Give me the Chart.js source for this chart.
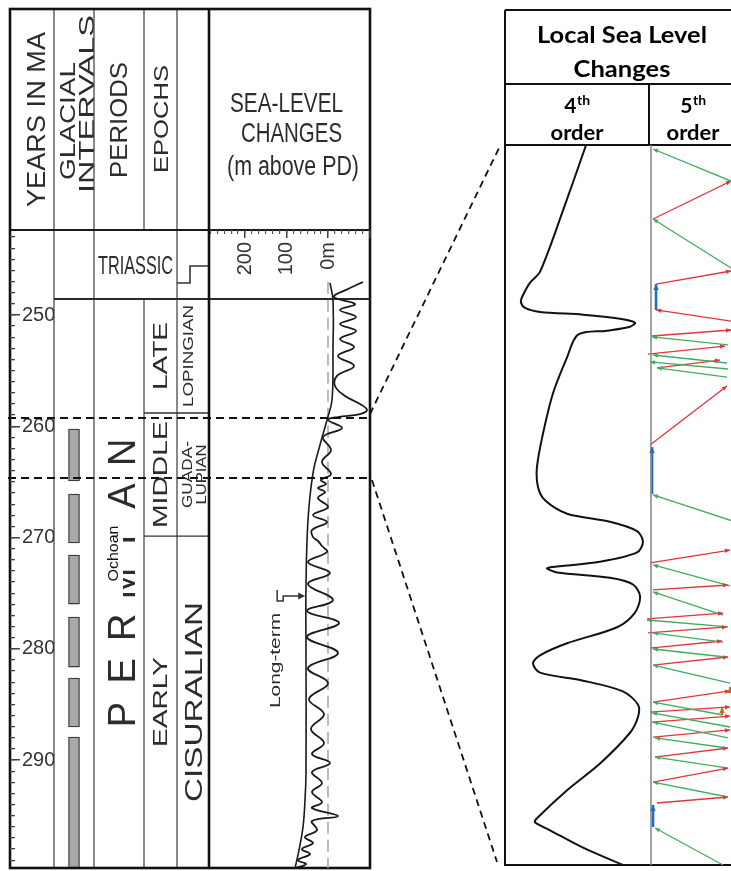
<!DOCTYPE html>
<html>
<head>
<meta charset="utf-8">
<script src="https://cdn.jsdelivr.net/npm/chart.js@4.4.1/dist/chart.umd.min.js"></script>
<style>
  html, body { margin: 0; padding: 0; background: #fff; }
  #wrap { position: relative; width: 731px; height: 871px; overflow: hidden; background: #fff; }
  #wrap canvas { position: absolute; left: 0; top: 0; }
</style>
</head>
<body>
<div id="wrap">
  <canvas id="cCols" width="731" height="871"></canvas>
  <canvas id="cAge" width="731" height="871"></canvas>
  <canvas id="cSea" width="731" height="871"></canvas>
  <canvas id="cRuler" width="731" height="871"></canvas>
  <canvas id="c4" width="731" height="871"></canvas>
  <canvas id="c5" width="731" height="871"></canvas>
</div>
<script>
// ---------------- data ----------------
// time span of the stratigraphic column (Ma, top to bottom)
const ageRange = [242.36, 299.7];
// interval enlarged in the local panel (Ma)
const zoomWindow = [259.26, 264.65];

const periods = [['TRIASSIC', 242.36, 248.56], ['PERMIAN', 248.56, 299.7]];
const epochs = [['LATE', 248.56, 258.81], ['MIDDLE', 258.81, 269.87], ['EARLY', 269.87, 299.7]];
const seriesNames = [['LOPINGIAN', 248.56, 258.81], ['GUADA-\nLUPIAN', 258.81, 269.87], ['CISURALIAN', 269.87, 299.7]];

// glacial intervals [start, end] in Ma
const glacialIntervals = [
  [260.25, 264.92], [266.09, 270.49], [271.57, 275.98],
  [277.15, 281.64], [282.63, 287.03], [287.93, 299.7]
];

// short-term sea level (m above present day)
const seaLevelAges = [247.03, 247.66, 248.38, 249.01, 249.55, 250.18, 250.81, 251.44, 252.16, 252.88,
  253.69, 254.58, 255.48, 256.38, 257.28, 258.00, 258.54, 258.90, 259.17, 259.44,
  260.16, 260.97, 262.13, 263.21, 264.29, 264.83, 265.19, 265.55, 265.91, 266.45,
  267.26, 267.98, 268.61, 269.33, 269.96, 270.31, 270.76, 271.30, 272.20, 273.19,
  274.18, 275.62, 276.61, 277.69, 278.94, 280.38, 281.73, 283.08, 284.52, 285.87,
  287.21, 288.47, 289.46, 290.27, 291.08, 292.07, 292.88, 293.78, 294.31, 295.03,
  295.48, 296.29, 296.92, 297.46, 298.00, 298.45, 298.99, 299.35, 299.71];
const seaLevelShort = [-84.3, -48.2, -14.5, -65.1, -28.9, -67.5, -28.9, -67.5, -28.9, -62.7,
  -24.1, -62.7, -21.7, -16.9, -41.0, -77.1, -94.0, -77.1, -24.1, 0,
  -33.7, 12.0, -7.2, 14.5, -7.2, 16.9, 4.8, 24.1, 7.2, 24.1,
  0, 36.1, 2.4, 38.6, 36.1, 24.1, 14.5, 2.4, 48.2, -4.8,
  48.2, -12.0, 50.6, -26.5, 50.6, -24.1, 48.2, 0, 45.8, 9.6,
  41.0, 9.6, 38.6, -4.8, 38.6, 14.5, 38.6, 14.5, 38.6, -24.1,
  38.6, 26.5, 55.4, 36.1, 62.7, 43.4, 72.3, 53.0, 79.5];

// long-term sea level trend (m above present day)
const longTermAges = [247.12, 248.65, 253.15, 257.64, 259.44, 261.69, 264.20, 268.43, 274.45, 280.11, 291.17, 293.60, 296.02, 298.09, 299.73];
const longTermLevel = [-4.8, -12.0, -12.0, -9.6, 2.4, 19.3, 36.1, 48.2, 53.0, 53.0, 53.0, 55.4, 60.2, 69.9, 79.5];

// local 4th-order cycle (relative level, 0-100)
const order4Ages = [259.26, 259.75, 260.21, 260.29, 260.40, 260.44, 260.48, 260.51, 260.53, 260.56,
  260.59, 260.62, 260.65, 260.68, 260.85, 261.12, 261.42, 261.67, 261.82, 261.92,
  262.02, 262.08, 262.15, 262.23, 262.31, 262.38, 262.42, 262.43, 262.46, 262.50,
  262.55, 262.64, 262.76, 262.87, 262.99, 263.08, 263.14, 263.21, 263.27, 263.35,
  263.45, 263.54, 263.66, 263.89, 264.09, 264.30, 264.33, 264.39, 264.52, 264.65];
const order4Level = [56.3, 40.3, 24.3, 17.4, 11.8, 11.1, 13.9, 24.3, 54.2, 79.9,
  90.3, 86.8, 70.8, 50.7, 43.1, 33.3, 26.4, 22.2, 22.9, 27.8,
  43.1, 72.9, 91.7, 95.8, 91.7, 66.0, 32.6, 29.2, 36.1, 72.9,
  88.9, 93.8, 90.3, 77.8, 43.1, 24.3, 19.4, 24.3, 54.2, 81.9,
  92.4, 92.4, 86.8, 66.0, 43.1, 22.2, 20.8, 31.3, 54.2, 81.9];

// local 5th-order arrows: [fromAge, fromLevel, toAge, toLevel] (head at "to")
const fallArrows = [
  [259.530, 100, 259.290, 2.5], [260.181, 100, 259.814, 2.5], [260.757, 96.3, 260.697, 1.3],
  [260.892, 95, 260.832, 2.5], [260.937, 96.3, 260.884, -1.3], [260.997, 95, 260.929, 7.5],
  [262.105, 117.5, 261.880, 2.5], [262.561, 98.8, 262.404, 2.5], [262.779, 90, 262.606, 2.5],
  [262.868, 96.3, 262.816, -5], [262.981, 90, 262.913, 2.5], [263.093, 92.5, 263.033, 2.5],
  [263.288, 98.8, 263.153, 2.5], [263.527, 90, 263.430, 2.5], [263.617, 98.8, 263.512, 1.3],
  [263.699, 96.3, 263.580, 2.5], [263.774, 95, 263.699, 5], [263.924, 96.3, 263.842, 5],
  [264.141, 96.3, 264.029, 2.5], [264.650, 90, 264.373, 5]
];
const riseArrows = [
  [259.814, 2.5, 259.530, 100], [260.301, 6.3, 260.203, 100], [260.578, 100, 260.495, 6.3],
  [260.690, 1.3, 260.645, 100], [260.825, -3.8, 260.765, 92.5], [260.929, 7.5, 260.870, 86.3],
  [261.506, -1.3, 261.064, 95], [262.389, -1.3, 262.292, 98.8], [262.591, 2.5, 262.554, 96.3],
  [262.808, -5, 262.764, 90], [262.913, -3.8, 262.868, 95], [263.026, -1.3, 262.973, 88.8],
  [263.153, 2.5, 263.093, 96.3], [263.430, 2.5, 263.347, 98.8], [263.505, -1.3, 263.467, 98.8],
  [263.580, 1.3, 263.535, 98.8], [263.692, 2.5, 263.639, 98.8], [263.842, 5, 263.774, 96.3],
  [264.029, 2.5, 263.924, 96.3], [264.186, 7.5, 264.141, 96.3]
];
const stillArrows = [[260.495, 6.3, 260.301, 6.3], [261.873, 1.3, 261.521, 1.3], [264.366, 2.5, 264.201, 2.5]];
const stepArrows = [[263.355, 98.8, 263.318, 98.8], [263.527, 88.8, 263.467, 88.8]];

// ---------------- styles & helpers ----------------
const INK = '#2c2c2c';
const FONT = '"Liberation Sans", Arial, Helvetica, sans-serif';
const BOLD_FONT = 'Lato, "Liberation Sans", Arial, sans-serif';
const SEA_MIN = -101.2, SEA_MAX = 286.7;
const GREEN = '#3fae5c', RED = '#e2343f', BLUE = '#1f6fbf', ORANGE = '#c4691f';

function fitText(ctx, text, cx, cy, len, cap, o = {}) {
  const size = cap / 0.716;
  ctx.save();
  ctx.font = `${o.bold ? 'bold ' : ''}${size}px ${o.family || FONT}`;
  const w = ctx.measureText(text).width;
  ctx.translate(cx, cy);
  if (o.rotate) ctx.rotate(-Math.PI / 2);
  ctx.scale(len / w, 1);
  ctx.textAlign = 'center';
  ctx.textBaseline = 'alphabetic';
  ctx.fillStyle = o.color || INK;
  ctx.fillText(text, 0, cap / 2);
  ctx.restore();
}
function stroke(ctx, pts, w, color, dash) {
  ctx.save();
  ctx.beginPath();
  pts.forEach((p, i) => i ? ctx.lineTo(p[0], p[1]) : ctx.moveTo(p[0], p[1]));
  ctx.lineWidth = w;
  ctx.strokeStyle = color;
  ctx.setLineDash(dash || []);
  ctx.stroke();
  ctx.restore();
}
function baseOptions(pad, scales) {
  return {
    responsive: false, animation: false, devicePixelRatio: 1, events: [],
    layout: { padding: pad },
    plugins: { legend: { display: false }, tooltip: { enabled: false } },
    scales
  };
}
const ageScale = () => ({ type: 'linear', min: ageRange[0], max: ageRange[1], reverse: true, display: false });

// column edges of the stratigraphic table
const COL = { left: 10, glacial: 54, period: 94, epoch: 144, series: 177, sea: 209, right: 370, top: 9 };

const headerLabels = [
  { t: 'YEARS IN MA', x: 35, y: 119.5, len: 175, cap: 19 },
  { t: 'GLACIAL', x: 67.5, y: 121, len: 118, cap: 15.5 },
  { t: 'INTERVALS', x: 86, y: 104, len: 178, cap: 15.5 },
  { t: 'PERIODS', x: 118.5, y: 120, len: 116, cap: 17 },
  { t: 'EPOCHS', x: 160.5, y: 119, len: 108, cap: 15 }
];
const unitStyle = {
  LATE: { x: 159.5, len: 68, cap: 15 }, MIDDLE: { x: 159.5, len: 107, cap: 15 }, EARLY: { x: 159.5, len: 90, cap: 15 },
  LOPINGIAN: { x: 187.5, len: 102, cap: 11 }, 'GUADA-': { x: 186, len: 67, cap: 11 }, LUPIAN: { x: 200.5, len: 60, cap: 11 },
  CISURALIAN: { x: 193.5, len: 200, cap: 17 }
};

// ---------------- stratigraphic table (frame, units, glacial bars) ----------------
const stratFrame = {
  id: 'stratFrame',
  afterDraw(chart) {
    const ctx = chart.ctx;
    const Y = v => chart.scales.y.getPixelForValue(v);
    const head = Y(ageRange[0]), bottom = Y(ageRange[1]);
    const yTri = Y(periods[0][2]);

    headerLabels.forEach(h => fitText(ctx, h.t, h.x, h.y, h.len, h.cap, { rotate: true }));

    // Triassic row
    fitText(ctx, periods[0][0], (COL.period + COL.series) / 2, (head + yTri) / 2, 75, 19);
    stroke(ctx, [[COL.series, yTri - 16], [COL.series + 13, yTri - 16], [COL.series + 13, yTri - 33], [COL.sea, yTri - 33]], 1.6, '#333');

    // Permian, letter by letter
    const pMid = (Y(periods[1][1]) + Y(periods[1][2])) / 2;
    ctx.save();
    ctx.font = `38px ${FONT}`;
    ctx.fillStyle = INK;
    ctx.textAlign = 'center';
    periods[1][0].split('').forEach((ch, i) => {
      ctx.save();
      ctx.translate(121, pMid + (3 - i) * 43.7);
      ctx.rotate(-Math.PI / 2);
      ctx.fillText(ch, 0, 13.6);
      ctx.restore();
    });
    ctx.restore();
    ctx.fillStyle = '#fff';
    ctx.fillRect(100, pMid - 66, 23, 85);
    fitText(ctx, 'Ochoan', 112.5, pMid - 30, 56, 10.5, { rotate: true, color: '#111' });

    // epochs and series
    epochs.forEach(e => {
      const s = unitStyle[e[0]];
      fitText(ctx, e[0], s.x, (Y(e[1]) + Y(e[2])) / 2, s.len, s.cap, { rotate: true });
    });
    seriesNames.forEach(e => {
      const mid = (Y(e[1]) + Y(e[2])) / 2;
      e[0].split('\n').forEach(part => {
        const s = unitStyle[part];
        fitText(ctx, part, s.x, mid, s.len, s.cap, { rotate: true });
      });
    });

    // grid of the table
    const thin = '#4a4a4a';
    [COL.glacial, COL.period, COL.series].forEach(x => stroke(ctx, [[x, COL.top], [x, bottom]], 1.3, thin));
    stroke(ctx, [[COL.epoch, COL.top], [COL.epoch, head]], 1.3, thin);
    stroke(ctx, [[COL.epoch, yTri], [COL.epoch, bottom]], 1.3, thin);
    epochs.slice(1).forEach(e => stroke(ctx, [[COL.epoch, Y(e[1])], [COL.sea, Y(e[1])]], 1.4, '#333'));
    stroke(ctx, [[COL.glacial, yTri], [COL.right, yTri]], 1.8, '#2a2a2a');
    stroke(ctx, [[COL.left, head], [COL.right, head]], 2, '#1a1a1a');
    stroke(ctx, [[COL.sea, COL.top], [COL.sea, bottom]], 2.6, '#111');
    ctx.save();
    ctx.lineWidth = 2.6;
    ctx.strokeStyle = '#111';
    ctx.strokeRect(COL.left, COL.top, COL.right - COL.left, bottom - COL.top);
    ctx.restore();
  }
};

const colsChart = new Chart(document.getElementById('cCols'), {
  type: 'bar',
  data: {
    labels: ['Glacial intervals'],
    datasets: [{
      label: 'Glacial intervals',
      data: glacialIntervals.map(iv => ({ x: 'Glacial intervals', y: iv })),
      backgroundColor: '#a8a8a8', borderColor: '#3a3a3a', borderWidth: 1.3,
      borderSkipped: false, barThickness: 11
    }]
  },
  options: baseOptions({ left: 54, right: 637, top: 230, bottom: 3 }, {
    x: { type: 'category', display: false },
    y: ageScale()
  }),
  plugins: [stratFrame]
});

// ---------------- age axis ----------------
const ageAxisChart = new Chart(document.getElementById('cAge'), {
  type: 'line',
  data: { datasets: [] },
  options: baseOptions({ left: 0, right: 677, top: 230, bottom: 3 }, {
    x: { type: 'linear', display: false, min: 0, max: 1 },
    yMinor: {
      type: 'linear', position: 'right', weight: 0, min: ageRange[0], max: ageRange[1], reverse: true,
      ticks: { display: false, stepSize: 1, includeBounds: false },
      grid: { drawOnChartArea: false, tickLength: 5, color: '#444', lineWidth: 1.3 },
      border: { display: false },
      afterFit: s => { s.width = 0; s.paddingTop = 0; s.paddingBottom = 0; }
    },
    yMajor: {
      type: 'linear', position: 'right', weight: 1, min: ageRange[0], max: ageRange[1], reverse: true,
      ticks: { stepSize: 10, includeBounds: false, autoSkip: false, padding: 2, color: '#333', font: { family: FONT, size: 20 } },
      grid: { drawOnChartArea: false, tickLength: 10, color: '#444', lineWidth: 1.5 },
      border: { display: false },
      afterFit: s => { s.width = 44; s.paddingTop = 0; s.paddingBottom = 0; }
    }
  })
});

// ---------------- global sea-level curves ----------------
const longTermNote = {
  id: 'longTermNote',
  afterDatasetsDraw(chart) {
    const { ctx, scales: { x, y } } = chart;
    const yy = y.getPixelForValue(275.26);
    const tip = x.getPixelForValue(55), tail = x.getPixelForValue(108);
    stroke(ctx, [[tail - 6, yy - 6], [tail - 6, yy + 5], [tail, yy + 5], [tail, yy], [tip - 5, yy]], 1.5, '#333');
    ctx.save();
    ctx.beginPath();
    ctx.moveTo(tip, yy); ctx.lineTo(tip - 7, yy - 3.5); ctx.lineTo(tip - 7, yy + 3.5); ctx.closePath();
    ctx.fillStyle = '#333'; ctx.fill();
    ctx.restore();
    fitText(ctx, 'Long-term', x.getPixelForValue(130), y.getPixelForValue(281.05), 95, 11, { rotate: true });
  }
};

const seaChart = new Chart(document.getElementById('cSea'), {
  type: 'line',
  data: {
    datasets: [
      { label: 'Short-term', data: seaLevelAges.map((a, i) => ({ x: seaLevelShort[i], y: a })),
        borderColor: '#1a1a1a', borderWidth: 1.8, tension: 0.4, pointRadius: 0, fill: false },
      { label: 'Long-term', data: longTermAges.map((a, i) => ({ x: longTermLevel[i], y: a })),
        borderColor: '#1a1a1a', borderWidth: 1.6, tension: 0.4, pointRadius: 0, fill: false },
      { label: '0 m', data: [{ x: 0, y: 247.0 }, { x: 0, y: ageRange[1] }],
        borderColor: '#a4a4a4', borderWidth: 1.5, borderDash: [12, 6], pointRadius: 0, fill: false }
    ]
  },
  options: baseOptions({ left: 209, right: 361, top: 230, bottom: 3 }, {
    x: { type: 'linear', min: SEA_MIN, max: SEA_MAX, reverse: true, display: false },
    y: ageScale()
  }),
  plugins: [longTermNote]
});

// ---------------- sea-level header and metre ruler ----------------
const seaHeader = {
  id: 'seaHeader',
  afterDraw(chart) {
    const ctx = chart.ctx;
    fitText(ctx, 'SEA-LEVEL', 286.5, 102, 113, 20);
    fitText(ctx, 'CHANGES', 291.5, 132, 101, 20);
    fitText(ctx, '(m above PD)', 293, 165, 132, 20);
  }
};
const seaTickLabel = v => {
  const r = Math.round(v);
  if (Math.abs(v - r) > 0.01) return '';
  if (r === 0) return '0m';
  return (r === 100 || r === 200) ? String(r) : '';
};
const rulerChart = new Chart(document.getElementById('cRuler'), {
  type: 'line',
  data: { datasets: [] },
  options: baseOptions({ left: 209, right: 361, top: 9, bottom: 591 }, {
    y: { type: 'linear', display: false, min: 0, max: 1 },
    xMinor: {
      type: 'linear', position: 'bottom', weight: 0, min: SEA_MIN, max: SEA_MAX, reverse: true,
      ticks: { display: false, stepSize: 100 / 6, includeBounds: false },
      grid: { drawOnChartArea: false, tickLength: 4, color: '#555', lineWidth: 1.2 },
      border: { display: false },
      afterFit: s => { s.height = 0; s.paddingLeft = 0; s.paddingRight = 0; }
    },
    xMajor: {
      type: 'linear', position: 'bottom', weight: 1, min: SEA_MIN, max: SEA_MAX, reverse: true,
      ticks: { stepSize: 100, includeBounds: false, autoSkip: false, minRotation: 90, maxRotation: 90,
        padding: 4, color: '#333', font: { family: FONT, size: 20 }, callback: seaTickLabel },
      grid: { drawOnChartArea: false, tickLength: 8, color: '#444', lineWidth: 1.5 },
      border: { display: false },
      afterFit: s => { s.height = 50; s.paddingLeft = 0; s.paddingRight = 0; }
    }
  }),
  plugins: [seaHeader]
});

// ---------------- local sea-level panel ----------------
const localFrame = {
  id: 'localFrame',
  afterDraw(chart) {
    const ctx = chart.ctx, a = chart.chartArea;
    const R = 731;
    fitText(ctx, 'Local Sea Level', 622, 34, 170, 17, { bold: true, family: BOLD_FONT, color: '#000' });
    fitText(ctx, 'Changes', 622, 68.5, 97, 17, { bold: true, family: BOLD_FONT, color: '#000' });
    [['4', 577], ['5', 693]].forEach(([n, cx]) => {
      ctx.save();
      ctx.fillStyle = '#000';
      ctx.font = `bold 21px ${BOLD_FONT}`;
      const wn = ctx.measureText(n).width;
      ctx.font = `bold 14px ${BOLD_FONT}`;
      const wt = ctx.measureText('th').width;
      const x0 = cx - (wn + wt) / 2;
      ctx.font = `bold 21px ${BOLD_FONT}`;
      ctx.fillText(n, x0, 113);
      ctx.font = `bold 14px ${BOLD_FONT}`;
      ctx.fillText('th', x0 + wn + 0.5, 105);
      ctx.restore();
      fitText(ctx, 'order', cx, 132.5, 53, 15.5, { bold: true, family: BOLD_FONT, color: '#000' });
    });
    stroke(ctx, [[a.left, 10], [R, 10]], 2, '#111');
    stroke(ctx, [[a.left, 84], [R, 84]], 2, '#111');
    stroke(ctx, [[a.left, a.top], [R, a.top]], 2, '#111');
    stroke(ctx, [[a.right, 84], [a.right, a.top]], 2, '#111');
    stroke(ctx, [[a.left, a.bottom], [R, a.bottom]], 2, '#111');
    stroke(ctx, [[a.left, 10], [a.left, a.bottom + 1]], 2, '#111');
  }
};

const order4Chart = new Chart(document.getElementById('c4'), {
  type: 'line',
  data: {
    datasets: [{ label: '4th order', data: order4Ages.map((a, i) => ({ x: order4Level[i], y: a })),
      borderColor: '#111', borderWidth: 2, tension: 0.3, pointRadius: 0, fill: false }]
  },
  options: baseOptions({ left: 505, right: 82, top: 145, bottom: 6 }, {
    x: { type: 'linear', min: 0, max: 100, display: false },
    y: { type: 'linear', min: zoomWindow[0], max: zoomWindow[1], reverse: true, display: false }
  }),
  plugins: [localFrame]
});

const arrowHeads = {
  id: 'arrowHeads',
  afterDatasetsDraw(chart) {
    const ctx = chart.ctx;
    chart.data.datasets.forEach((ds, i) => {
      if (!ds.arrowHead) return;
      const pts = chart.getDatasetMeta(i).data;
      const a = pts[0], b = pts[1];
      const ang = Math.atan2(b.y - a.y, b.x - a.x);
      const L = ds.arrowHead, H = L * 0.45;
      ctx.save();
      ctx.translate(b.x, b.y);
      ctx.rotate(ang);
      ctx.beginPath();
      ctx.moveTo(0, 0); ctx.lineTo(-L, -H); ctx.lineTo(-L, H); ctx.closePath();
      ctx.fillStyle = ds.borderColor;
      ctx.fill();
      ctx.restore();
    });
  }
};

// dashed guides tying the enlarged interval to the column
const zoomGuides = {
  id: 'zoomGuides',
  afterDraw(chart) {
    const ctx = chart.ctx;
    const yS = seaChart.scales.y, a4 = order4Chart.chartArea;
    const yTop = yS.getPixelForValue(zoomWindow[0]), yBot = yS.getPixelForValue(zoomWindow[1]);
    const dash = [8, 5];
    stroke(ctx, [[8, yTop], [368, yTop]], 2, '#111', dash);
    stroke(ctx, [[8, yBot], [368, yBot]], 2, '#111', dash);
    stroke(ctx, [[370, yTop - 4], [a4.left - 5, a4.top + 1]], 1.8, '#111', [7, 5]);
    stroke(ctx, [[372, yBot + 2], [a4.left - 8, a4.bottom - 3]], 1.8, '#111', [7, 5]);
  }
};

const arrowSet = (list, color, width, label) => list.map(s => ({
  label, data: [{ x: s[1], y: s[0] }, { x: s[3], y: s[2] }],
  borderColor: color, borderWidth: width, pointRadius: 0, fill: false,
  clip: { left: 10, top: 3, right: 10, bottom: 3 }, arrowHead: width > 2 ? 6 : 5
}));

const order5Chart = new Chart(document.getElementById('c5'), {
  type: 'line',
  data: {
    datasets: [
      { label: 'base', data: [{ x: 0, y: zoomWindow[0] }, { x: 0, y: zoomWindow[1] }],
        borderColor: '#8c8c8c', borderWidth: 1.6, pointRadius: 0, fill: false, clip: 4 },
      ...arrowSet(fallArrows, GREEN, 1.3, 'fall'),
      ...arrowSet(riseArrows, RED, 1.3, 'rise'),
      ...arrowSet(stillArrows, BLUE, 2.6, 'stillstand'),
      ...arrowSet(stepArrows, ORANGE, 2.2, 'step')
    ]
  },
  options: baseOptions({ left: 651, right: 0, top: 145, bottom: 6 }, {
    x: { type: 'linear', min: 0, max: 100, display: false },
    y: { type: 'linear', min: zoomWindow[0], max: zoomWindow[1], reverse: true, display: false }
  }),
  plugins: [arrowHeads, zoomGuides]
});
</script>
</body>
</html>
